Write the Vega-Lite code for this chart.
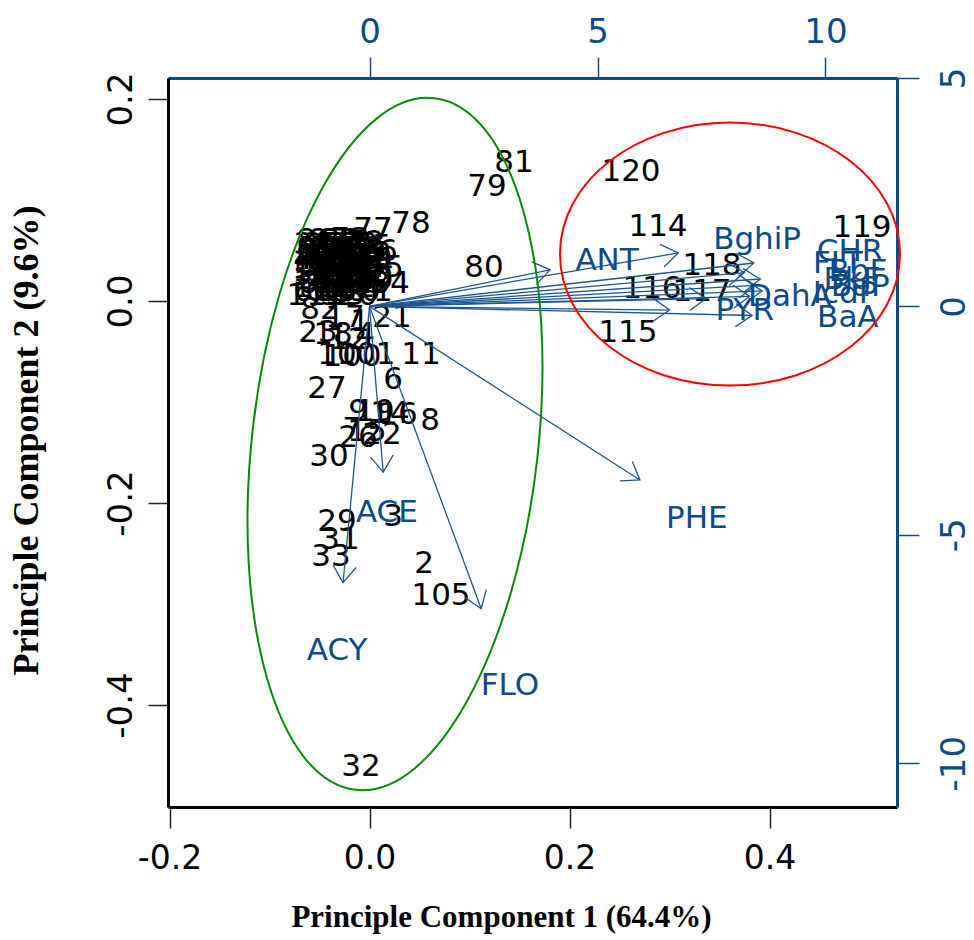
{
  "$schema": "https://vega.github.io/schema/vega-lite/v6.json",
  "width": 729,
  "height": 729,
  "autosize": {"type": "none"},
  "padding": {"left": 168, "top": 78, "right": 77, "bottom": 133},
  "background": "white",
  "config": {"view": {"stroke": null}},
  "datasets": {
    "scores": [
      {"label": "81", "pc1": 0.1445, "pc2": 0.1366},
      {"label": "79", "pc1": 0.1175, "pc2": 0.1129},
      {"label": "120", "pc1": 0.2615, "pc2": 0.1277},
      {"label": "78", "pc1": 0.0415, "pc2": 0.0762},
      {"label": "77", "pc1": 0.0035, "pc2": 0.0703},
      {"label": "114", "pc1": 0.2885, "pc2": 0.0733},
      {"label": "119", "pc1": 0.4925, "pc2": 0.0723},
      {"label": "118", "pc1": 0.3425, "pc2": 0.0347},
      {"label": "80", "pc1": 0.1145, "pc2": 0.0327},
      {"label": "116", "pc1": 0.2825, "pc2": 0.0119},
      {"label": "117", "pc1": 0.3325, "pc2": 0.0089},
      {"label": "115", "pc1": 0.2585, "pc2": -0.0317},
      {"label": "11", "pc1": 0.0515, "pc2": -0.0535},
      {"label": "6", "pc1": 0.0235, "pc2": -0.0782},
      {"label": "27", "pc1": -0.0425, "pc2": -0.0871},
      {"label": "8", "pc1": 0.0605, "pc2": -0.1188},
      {"label": "30", "pc1": -0.0405, "pc2": -0.1545},
      {"label": "3", "pc1": 0.0235, "pc2": -0.2139},
      {"label": "29", "pc1": -0.0325, "pc2": -0.2188},
      {"label": "31", "pc1": -0.0295, "pc2": -0.2366},
      {"label": "33", "pc1": -0.0385, "pc2": -0.2535},
      {"label": "2", "pc1": 0.0545, "pc2": -0.2604},
      {"label": "105", "pc1": 0.0715, "pc2": -0.2921},
      {"label": "32", "pc1": -0.0085, "pc2": -0.4614},
      {"label": "34", "pc1": -0.0565, "pc2": 0.0554},
      {"label": "35", "pc1": -0.0465, "pc2": 0.0554},
      {"label": "36", "pc1": -0.0345, "pc2": 0.0554},
      {"label": "37", "pc1": -0.0225, "pc2": 0.0554},
      {"label": "38", "pc1": -0.0115, "pc2": 0.0554},
      {"label": "39", "pc1": -0.0515, "pc2": 0.0485},
      {"label": "40", "pc1": -0.0395, "pc2": 0.0485},
      {"label": "41", "pc1": -0.0275, "pc2": 0.0485},
      {"label": "42", "pc1": -0.0155, "pc2": 0.0485},
      {"label": "43", "pc1": -0.0035, "pc2": 0.0485},
      {"label": "76", "pc1": 0.0085, "pc2": 0.0485},
      {"label": "44", "pc1": -0.0565, "pc2": 0.0406},
      {"label": "45", "pc1": -0.0445, "pc2": 0.0406},
      {"label": "46", "pc1": -0.0325, "pc2": 0.0406},
      {"label": "47", "pc1": -0.0205, "pc2": 0.0406},
      {"label": "48", "pc1": -0.0085, "pc2": 0.0406},
      {"label": "49", "pc1": 0.0035, "pc2": 0.0406},
      {"label": "50", "pc1": -0.0515, "pc2": 0.0327},
      {"label": "51", "pc1": -0.0395, "pc2": 0.0327},
      {"label": "52", "pc1": -0.0275, "pc2": 0.0327},
      {"label": "53", "pc1": -0.0155, "pc2": 0.0327},
      {"label": "54", "pc1": -0.0035, "pc2": 0.0327},
      {"label": "85", "pc1": 0.0145, "pc2": 0.0327},
      {"label": "55", "pc1": -0.0565, "pc2": 0.0248},
      {"label": "56", "pc1": -0.0445, "pc2": 0.0248},
      {"label": "57", "pc1": -0.0325, "pc2": 0.0248},
      {"label": "58", "pc1": -0.0205, "pc2": 0.0248},
      {"label": "59", "pc1": -0.0085, "pc2": 0.0248},
      {"label": "60", "pc1": 0.0035, "pc2": 0.0248},
      {"label": "61", "pc1": -0.0515, "pc2": 0.0168},
      {"label": "62", "pc1": -0.0395, "pc2": 0.0168},
      {"label": "63", "pc1": -0.0275, "pc2": 0.0168},
      {"label": "64", "pc1": -0.0155, "pc2": 0.0168},
      {"label": "65", "pc1": -0.0035, "pc2": 0.0168},
      {"label": "84", "pc1": 0.0205, "pc2": 0.0168},
      {"label": "66", "pc1": -0.0565, "pc2": 0.0089},
      {"label": "67", "pc1": -0.0445, "pc2": 0.0089},
      {"label": "68", "pc1": -0.0325, "pc2": 0.0089},
      {"label": "69", "pc1": -0.0205, "pc2": 0.0089},
      {"label": "70", "pc1": -0.0085, "pc2": 0.0089},
      {"label": "71", "pc1": 0.0035, "pc2": 0.0089},
      {"label": "73", "pc1": -0.0195, "pc2": 0.0604},
      {"label": "72", "pc1": -0.0045, "pc2": 0.0574},
      {"label": "75", "pc1": 0.0025, "pc2": 0.0535},
      {"label": "86", "pc1": -0.0535, "pc2": 0.0594},
      {"label": "87", "pc1": -0.0415, "pc2": 0.0594},
      {"label": "88", "pc1": -0.0295, "pc2": 0.0594},
      {"label": "89", "pc1": -0.0535, "pc2": 0.0515},
      {"label": "90", "pc1": -0.0415, "pc2": 0.0515},
      {"label": "91", "pc1": -0.0295, "pc2": 0.0515},
      {"label": "92", "pc1": -0.0175, "pc2": 0.0515},
      {"label": "93", "pc1": -0.0055, "pc2": 0.0515},
      {"label": "94", "pc1": -0.0535, "pc2": 0.0446},
      {"label": "95", "pc1": -0.0415, "pc2": 0.0446},
      {"label": "96", "pc1": -0.0295, "pc2": 0.0446},
      {"label": "97", "pc1": -0.0175, "pc2": 0.0446},
      {"label": "98", "pc1": -0.0535, "pc2": 0.0366},
      {"label": "99", "pc1": -0.0415, "pc2": 0.0366},
      {"label": "102", "pc1": -0.0295, "pc2": 0.0366},
      {"label": "103", "pc1": -0.0175, "pc2": 0.0366},
      {"label": "104", "pc1": -0.0055, "pc2": 0.0366},
      {"label": "106", "pc1": -0.0475, "pc2": 0.0287},
      {"label": "107", "pc1": -0.0235, "pc2": 0.0287},
      {"label": "108", "pc1": -0.0475, "pc2": 0.0208},
      {"label": "109", "pc1": -0.0235, "pc2": 0.0208},
      {"label": "110", "pc1": -0.0055, "pc2": 0.0208},
      {"label": "111", "pc1": -0.0475, "pc2": 0.0129},
      {"label": "112", "pc1": -0.0235, "pc2": 0.0129},
      {"label": "113", "pc1": -0.0535, "pc2": 0.0050},
      {"label": "5", "pc1": -0.0395, "pc2": 0.0050},
      {"label": "13", "pc1": -0.0245, "pc2": 0.0050},
      {"label": "20", "pc1": -0.0115, "pc2": 0.0050},
      {"label": "82", "pc1": -0.0495, "pc2": -0.0089},
      {"label": "17", "pc1": -0.0245, "pc2": -0.0168},
      {"label": "1", "pc1": -0.0095, "pc2": -0.0208},
      {"label": "21", "pc1": 0.0225, "pc2": -0.0168},
      {"label": "23", "pc1": -0.0515, "pc2": -0.0317},
      {"label": "18", "pc1": -0.0365, "pc2": -0.0337},
      {"label": "12", "pc1": -0.0215, "pc2": -0.0386},
      {"label": "4", "pc1": -0.0045, "pc2": -0.0337},
      {"label": "10", "pc1": -0.0325, "pc2": -0.0535},
      {"label": "100", "pc1": -0.0175, "pc2": -0.0554},
      {"label": "101", "pc1": -0.0035, "pc2": -0.0535},
      {"label": "9", "pc1": -0.0115, "pc2": -0.1099},
      {"label": "19", "pc1": 0.0055, "pc2": -0.1099},
      {"label": "14", "pc1": 0.0205, "pc2": -0.1119},
      {"label": "16", "pc1": 0.0285, "pc2": -0.1129},
      {"label": "7", "pc1": -0.0175, "pc2": -0.1277},
      {"label": "15", "pc1": -0.0025, "pc2": -0.1297},
      {"label": "22", "pc1": 0.0125, "pc2": -0.1327},
      {"label": "26", "pc1": -0.0115, "pc2": -0.1356}
    ],
    "tips": [
      {"name": "PHE", "ax": 5.93, "ay": -3.80},
      {"name": "FLO", "ax": 2.45, "ay": -6.62},
      {"name": "ACY", "ax": -0.58, "ay": -6.05},
      {"name": "ACE", "ax": 0.30, "ay": -3.63},
      {"name": "ANT", "ax": 3.96, "ay": 0.80},
      {"name": "BghiP", "ax": 6.77, "ay": 1.17},
      {"name": "PYR", "ax": 6.58, "ay": -0.08},
      {"name": "BaA", "ax": 8.39, "ay": -0.20},
      {"name": "DahA", "ax": 7.38, "ay": 0.17},
      {"name": "CHR", "ax": 8.43, "ay": 0.95},
      {"name": "FLT", "ax": 8.22, "ay": 0.74},
      {"name": "BbF", "ax": 8.57, "ay": 0.60},
      {"name": "BkF", "ax": 8.46, "ay": 0.46},
      {"name": "BaP", "ax": 8.61, "ay": 0.34},
      {"name": "IcdP", "ax": 8.34, "ay": 0.22}
    ],
    "labels": [
      {"name": "PHE", "ax": 7.18, "ay": -4.65},
      {"name": "FLO", "ax": 3.08, "ay": -8.31},
      {"name": "ACY", "ax": -0.71, "ay": -7.54},
      {"name": "ACE", "ax": 0.38, "ay": -4.53},
      {"name": "ANT", "ax": 5.21, "ay": 0.99},
      {"name": "BghiP", "ax": 8.50, "ay": 1.46},
      {"name": "PYR", "ax": 8.23, "ay": -0.10},
      {"name": "BaA", "ax": 10.49, "ay": -0.25},
      {"name": "DahA", "ax": 9.22, "ay": 0.21},
      {"name": "CHR", "ax": 10.54, "ay": 1.19},
      {"name": "FLT", "ax": 10.27, "ay": 0.93},
      {"name": "BbF", "ax": 10.71, "ay": 0.75},
      {"name": "BkF", "ax": 10.58, "ay": 0.58},
      {"name": "BaP", "ax": 10.76, "ay": 0.42},
      {"name": "IcdP", "ax": 10.43, "ay": 0.27}
    ],
    "greenCenter": [{"pc1": 0.0255, "pc2": -0.1416}],
    "redCenter": [{"pc1": 0.3605, "pc2": 0.0465}]
  },
  "layer": [
    {
      "data": {"name": "scores"},
      "mark": {"type": "text", "font": "DejaVu Sans", "fontSize": 31, "color": "#000", "align": "center", "baseline": "middle"},
      "encoding": {
        "x": {"field": "pc1", "type": "quantitative",
          "scale": {"domain": [-0.2015, 0.5275], "nice": false, "zero": false},
          "axis": {
            "values": [-0.2, 0, 0.2, 0.4],
            "labelExpr": "datum.value < 0 ? '-' + format(-datum.value, '.1f') : format(datum.value, '.1f')",
            "title": "Principle Component 1 (64.4%)",
            "titleFont": "Liberation Serif", "titleFontWeight": "bold", "titleFontSize": 31, "titleColor": "#000",
            "titleX": 333, "titleY": 110, "titleAlign": "center", "titleBaseline": "middle", "titleAngle": 0,
            "domainColor": "#000", "domainWidth": 3, "tickColor": "#222", "tickWidth": 1.5, "tickSize": 21,
            "labelFont": "DejaVu Sans", "labelFontSize": 33, "labelColor": "#000", "labelPadding": 14,
            "labelBaseline": "top", "labelAlign": "center", "labelFlush": false, "labelOverlap": false, "grid": false
          }},
        "y": {"field": "pc2", "type": "quantitative",
          "scale": {"domain": [-0.501, 0.2208], "nice": false, "zero": false},
          "axis": {
            "values": [-0.4, -0.2, 0, 0.2],
            "labelExpr": "datum.value < 0 ? '-' + format(-datum.value, '.1f') : format(datum.value, '.1f')",
            "title": "Principle Component 2 (9.6%)",
            "titleFont": "Liberation Serif", "titleFontWeight": "bold", "titleFontSize": 36, "titleColor": "#000",
            "titleX": -142, "titleY": 362, "titleAlign": "center", "titleBaseline": "middle", "titleAngle": 270,
            "domainColor": "#000", "domainWidth": 3, "tickColor": "#222", "tickWidth": 1.5, "tickSize": 20,
            "labelFont": "DejaVu Sans", "labelFontSize": 34, "labelColor": "#000", "labelPadding": 10,
            "labelAngle": 270, "labelBaseline": "bottom", "labelAlign": "center", "labelFlush": false, "labelOverlap": false, "grid": false
          }},
        "text": {"field": "label", "type": "nominal"}
      }
    },
    {
      "encoding": {
        "x": {"field": "ax", "type": "quantitative",
          "scale": {"domain": [-4.419, 11.568], "nice": false, "zero": false},
          "axis": {
            "orient": "top",
            "values": [0, 5, 10],
            "labelExpr": "datum.value < 0 ? '-' + format(-datum.value, 'd') : format(datum.value, 'd')",
            "title": null,
            "domainColor": "#0b4a8b", "domainWidth": 3, "tickColor": "#0b4a8b", "tickWidth": 1.5, "tickSize": 21,
            "labelFont": "DejaVu Sans", "labelFontSize": 34, "labelColor": "#0b4a8b", "labelPadding": 8,
            "labelBaseline": "bottom", "labelAlign": "center", "labelFlush": false, "labelOverlap": false, "grid": false
          }},
        "y": {"field": "ay", "type": "quantitative",
          "scale": {"domain": [-10.96, 5.0], "nice": false, "zero": false},
          "axis": {
            "orient": "right",
            "values": [-10, -5, 0, 5],
            "labelExpr": "datum.value < 0 ? '-' + format(-datum.value, 'd') : format(datum.value, 'd')",
            "title": null,
            "domainColor": "#0b4a8b", "domainWidth": 3, "tickColor": "#0b4a8b", "tickWidth": 1.5, "tickSize": 22,
            "labelFont": "DejaVu Sans", "labelFontSize": 34, "labelColor": "#0b4a8b", "labelPadding": 18,
            "labelAngle": 270, "labelBaseline": "top", "labelAlign": "center", "labelFlush": false, "labelOverlap": false, "grid": false
          }}
      },
      "layer": [
        {
          "data": {"name": "tips"},
          "mark": {"type": "rule", "color": "#1d5596", "strokeWidth": 1.3},
          "encoding": {"x2": {"datum": 0}, "y2": {"datum": 0}}
        },
        {
          "data": {"name": "tips"},
          "transform": [{"calculate": "atan2(datum.ax, datum.ay) * 180 / PI", "as": "ang"}],
          "mark": {"type": "point", "shape": "M -0.574 0.819 L 0 0 L 0.574 0.819", "filled": false, "size": 1600, "stroke": "#1d5596", "strokeWidth": 1.3, "opacity": 1},
          "encoding": {"angle": {"field": "ang", "type": "quantitative", "scale": null}}
        },
        {
          "data": {"name": "labels"},
          "mark": {"type": "text", "font": "DejaVu Sans", "fontSize": 31, "color": "#0b4a8b", "align": "center", "baseline": "middle"},
          "encoding": {"text": {"field": "name", "type": "nominal"}}
        }
      ]
    },
    {
      "encoding": {
        "x": {"field": "pc1", "type": "quantitative", "scale": {"domain": [-0.2015, 0.5275], "nice": false, "zero": false}, "axis": null},
        "y": {"field": "pc2", "type": "quantitative", "scale": {"domain": [-0.501, 0.2208], "nice": false, "zero": false}, "axis": null}
      },
      "layer": [
        {
          "data": {"name": "greenCenter"},
          "mark": {"type": "point", "shape": "M 0 -1 A 0.411 1 0 1 1 0 1 A 0.411 1 0 1 1 0 -1 Z", "filled": false, "size": 484416, "stroke": "#0a8a0a", "strokeWidth": 2, "opacity": 1, "angle": 6.5}
        },
        {
          "data": {"name": "redCenter"},
          "mark": {"type": "point", "shape": "M -1 0 A 1 0.7735 0 1 1 1 0 A 1 0.7735 0 1 1 -1 0 Z", "filled": false, "size": 115600, "stroke": "#ff0000", "strokeWidth": 2, "opacity": 1}
        }
      ]
    }
  ],
  "resolve": {"scale": {"x": "independent", "y": "independent"}, "axis": {"x": "independent", "y": "independent"}}
}
